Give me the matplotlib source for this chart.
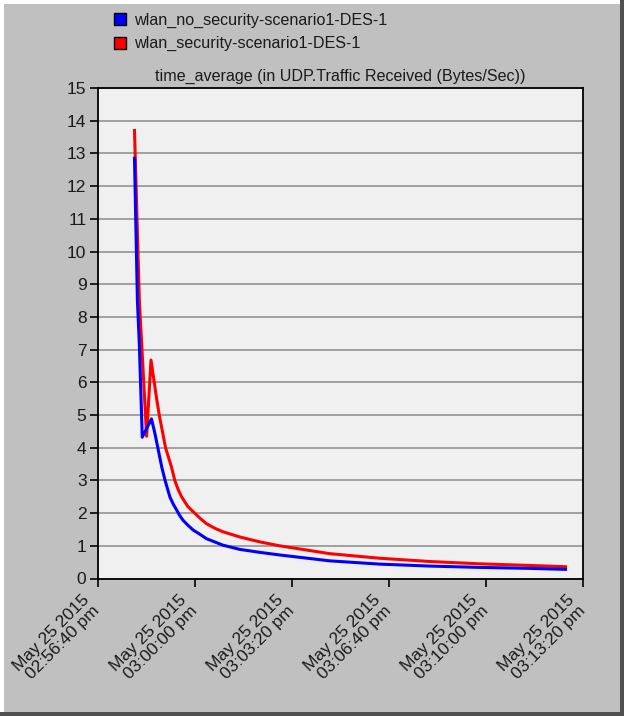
import matplotlib
matplotlib.use("Agg")
import matplotlib.pyplot as plt
import matplotlib.transforms as mtransforms
from matplotlib.lines import Line2D
from matplotlib.patches import Rectangle

# Elapsed time (s) since 02:56:40 pm and time-averaged UDP traffic received (Bytes/Sec)
t_no_sec = [76, 82, 86, 92, 111, 118, 125, 132, 139, 149, 156, 163, 169, 176, 186,
            197, 210, 224, 258, 293, 334, 375, 478, 581, 684, 786, 889, 964]
v_no_sec = [12.85, 8.5, 7.15, 4.32, 4.88, 4.44, 3.93, 3.42, 3.0, 2.49, 2.27, 2.09,
            1.93, 1.78, 1.63, 1.48, 1.36, 1.22, 1.02, 0.89, 0.80, 0.72, 0.54, 0.44,
            0.38, 0.34, 0.31, 0.28]

t_sec = [76, 86, 101, 110, 122, 127, 140, 152, 159, 166, 173, 186, 200, 212, 224,
         241, 258, 293, 334, 375, 478, 581, 684, 786, 889, 964]
v_sec = [13.7, 8.5, 4.35, 6.68, 5.46, 5.0, 4.0, 3.42, 3.0, 2.72, 2.5, 2.2, 2.0,
         1.83, 1.68, 1.54, 1.43, 1.27, 1.12, 1.0, 0.76, 0.62, 0.52, 0.45, 0.40, 0.36]

series_names = ["wlan_no_security-scenario1-DES-1", "wlan_security-scenario1-DES-1"]
series_colors = ["#0000ff", "#ff0000"]

x_ticks = [0, 200, 400, 600, 800, 1000]
x_tick_labels = ["May 25 2015\n02:56:40 pm", "May 25 2015\n03:00:00 pm",
                 "May 25 2015\n03:03:20 pm", "May 25 2015\n03:06:40 pm",
                 "May 25 2015\n03:10:00 pm", "May 25 2015\n03:13:20 pm"]
y_ticks = list(range(0, 16))

title = "time_average (in UDP.Traffic Received (Bytes/Sec))"

plt.rcParams["font.family"] = ["Liberation Sans", "DejaVu Sans"]
TXT = "#1a1a1a"

W, H = 624, 716
fig = plt.figure(figsize=(W / 100, H / 100), dpi=100)
fig.patch.set_facecolor("#c0c0c0")

# window bevel: light top/left edges, dark bottom/right edges
def px_rect(x0, y0, w, h, color):
    fig.patches.append(Rectangle((x0 / W, 1 - (y0 + h) / H), w / W, h / H,
                                 transform=fig.transFigure, facecolor=color,
                                 edgecolor="none", zorder=0))

px_rect(0, 0, W, 4, "#ffffff")
px_rect(0, 0, 4, H, "#ffffff")
px_rect(0, H - 4, W, 4, "#505050")
px_rect(W - 4, 0, 4, H, "#505050")

ax_l, ax_r, ax_t, ax_b = 97.6, 583.0, 88.0, 578.5
ax = fig.add_axes([ax_l / W, 1 - ax_b / H, (ax_r - ax_l) / W, (ax_b - ax_t) / H])
ax.set_facecolor("#f0f0f0")

ax.plot(t_sec, v_sec, color=series_colors[1], lw=2.2, solid_joinstyle="round", zorder=3)
ax.plot(t_no_sec, v_no_sec, color=series_colors[0], lw=2.2, solid_joinstyle="round", zorder=4)

ax.set_xlim(0, 1000)
ax.set_ylim(0, 15)
ax.set_yticks(y_ticks)
ax.set_yticklabels([str(v) for v in y_ticks], fontsize=12.5, color=TXT)
ax.set_xticks(x_ticks)
ax.set_xticklabels(x_tick_labels, fontsize=12.5, color=TXT, rotation=45,
                   ha="right", va="top", rotation_mode="anchor", linespacing=1.0)
ax.tick_params(axis="both", direction="out", length=6, width=1.2, color="#000000")
ax.tick_params(axis="x", pad=4)
ax.tick_params(axis="y", pad=2)

shift = mtransforms.ScaledTranslation(-16 / 100, 0, fig.dpi_scale_trans)
for lab in ax.get_xticklabels():
    lab.set_multialignment("right")
    lab.set_transform(lab.get_transform() + shift)

ax.yaxis.grid(True, color="#9a9a9a", lw=1.3)
ax.set_axisbelow(True)
for s in ax.spines.values():
    s.set_color("#000000")
    s.set_linewidth(1.3)

ax.set_title(title, fontsize=11.6, color=TXT, pad=5)

handles = [Line2D([], [], ls="none", marker="s", markersize=8,
                  markerfacecolor=c, markeredgecolor="#000000", markeredgewidth=1.0)
           for c in series_colors]
fig.legend(handles, series_names, loc="upper left",
           bbox_to_anchor=(114 / W, 1 - 13 / H), frameon=False, fontsize=11.6,
           handlelength=0.8, handletextpad=0.45, labelspacing=0.5,
           borderaxespad=0, borderpad=0, labelcolor=TXT)

fig.savefig("out.png", dpi=100, facecolor=fig.get_facecolor())
